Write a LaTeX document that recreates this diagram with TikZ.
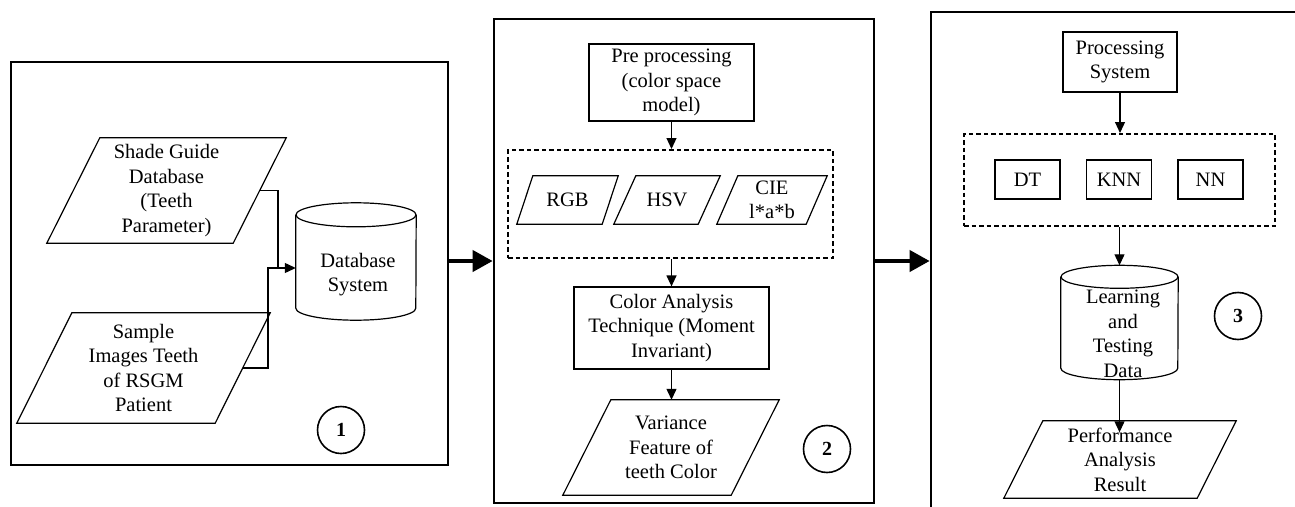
\documentclass[tikz,border=0pt]{standalone}
\usepackage{fontspec}
\setmainfont{Liberation Serif}
\usetikzlibrary{arrows.meta,calc}
\newcommand{\paradraw}[2]{\draw[line] ($(#1.north west)+(#2,0)$) -- (#1.north east) -- ($(#1.south east)-(#2,0)$) -- (#1.south west) -- cycle;}
\begin{document}
\begin{tikzpicture}[x=1pt,y=-1pt,
  txt/.style={font=\fontsize{20.5}{24.5}\selectfont, align=center, inner sep=0pt},
  panel/.style={draw, line width=2.7pt, inner sep=0pt},
  box/.style={txt, draw, line width=1.2pt},
  dashbox/.style={draw, line width=2pt, dash pattern=on 4.5pt off 3pt, inner sep=0pt},
  para/.style n args={2}{txt, minimum width=#1, minimum height=#2},
  cylshape/.style={inner sep=0pt},
  line/.style={line width=1.2pt, line join=miter},
  arr/.style={line width=1.2pt, -{Triangle[length=11pt,width=10pt]}},
  bigarr/.style={line width=4pt, -{Triangle[length=20pt,width=21pt]}},
  circ/.style={draw, circle, line width=1.6pt, minimum size=47pt, inner sep=0pt, font=\fontsize{20}{22}\selectfont\bfseries}
]
\useasboundingbox (0,0) rectangle (1295,506);

% panels
\node[panel, minimum width=437pt, minimum height=403pt] (p1) at (229.5,263.5) {};
\node[panel, minimum width=380pt, minimum height=484pt] (p2) at (684,261) {};
\node[panel, minimum width=389pt, minimum height=510pt] (p3) at (1125.5,267) {};

% panel 1
\node[para={239pt}{105pt}] (shade) at (166.5,190.5) {Shade Guide\\Database\\(Teeth\\Parameter)};
\paradraw{shade}{53}
\node[para={253pt}{110pt}] (sample) at (143.5,368) {Sample\\Images Teeth\\of RSGM\\Patient};
\paradraw{sample}{55}
\node[cylshape, minimum width=120pt, minimum height=93pt] (db) at (356,261.5) {};
\draw[line] (db.north west) -- (db.south west) arc[start angle=180, end angle=360, x radius=60pt, y radius=12pt] -- (db.north east);
\draw[line] (db.north) ellipse[x radius=60pt, y radius=12pt];
\node[txt] (dbtext) at (358,274.5) {Database\\System};
\coordinate (j1) at (278,268);
\coordinate (j2) at (268,268);
\draw[arr] ($(shade.east)-(26.5,0)$) -| (j1) -- (j1 -| db.west);
\draw[line] ($(sample.east)-(27.5,0)$) -| (j2) -- (j1);
\node[circ] (c1) at (341,430) {1};

% panel 2
\node[box, minimum width=165pt, minimum height=77pt] (pre) at (671.5,82.5) {Pre processing\\(color space\\model)};
\node[dashbox, minimum width=325pt, minimum height=108pt] (d2) at (670.5,204) {};
\node[para={101pt}{48pt}] (rgb) at (567.5,200) {RGB};
\paradraw{rgb}{16}
\node[para={106pt}{48pt}] (hsv) at (667,200) {HSV};
\paradraw{hsv}{22}
\node[para={110pt}{48pt}] (cie) at (772,200) {CIE\\l*a*b};
\paradraw{cie}{21}
\node[box, minimum width=195pt, minimum height=82pt] (ca) at (671.5,328) {Color Analysis\\Technique (Moment\\Invariant)};
\node[para={216pt}{95pt}] (var) at (671,447.5) {Variance\\Feature of\\teeth Color};
\paradraw{var}{48}
\node[circ] (c2) at (827,449) {2};
\draw[arr] (pre.south) -- (pre.south |- d2.north);
\draw[arr] (ca.north |- d2.south) -- (ca.north);
\draw[arr] (ca.south) -- (ca.south |- var.north);

% panel 3
\node[box, minimum width=114pt, minimum height=60pt] (ps) at (1120,62) {Processing\\System};
\node[dashbox, minimum width=311pt, minimum height=92pt] (d3) at (1119.5,180) {};
\node[box, minimum width=65pt, minimum height=39pt] (dt) at (1027.5,179.5) {DT};
\node[box, minimum width=65pt, minimum height=39pt] (knn) at (1119,179.5) {KNN};
\node[box, minimum width=65pt, minimum height=39pt] (nn) at (1210.5,179.5) {NN};
\node[cylshape, minimum width=117pt, minimum height=91pt] (ld) at (1119.5,322.5) {};
\draw[line] (ld.north west) -- (ld.south west) arc[start angle=180, end angle=360, x radius=58.5pt, y radius=11.5pt] -- (ld.north east);
\draw[line] (ld.north) ellipse[x radius=58.5pt, y radius=11.5pt];
\node[txt] (ldtext) at (1123,334) {Learning\\and\\Testing\\Data};
\node[para={232pt}{77pt}] (perf) at (1120,459.5) {Performance\\Analysis\\Result};
\paradraw{perf}{39}
\node[circ] (c3) at (1238,316) {3};
\draw[arr] (ps.south) -- (ps.south |- d3.north);
\draw[arr] (d3.south) -- ([yshift=11.5pt]ld.north);
\draw[arr] ([yshift=-11.5pt]ld.south) -- ([yshift=-11.5pt]ld.south |- perf.north);

% big arrows
\draw[bigarr] (p1.east |- p2.west) -- (p2.west);
\draw[bigarr] (p2.east) -- (p2.east -| p3.west);
\end{tikzpicture}
\end{document}
